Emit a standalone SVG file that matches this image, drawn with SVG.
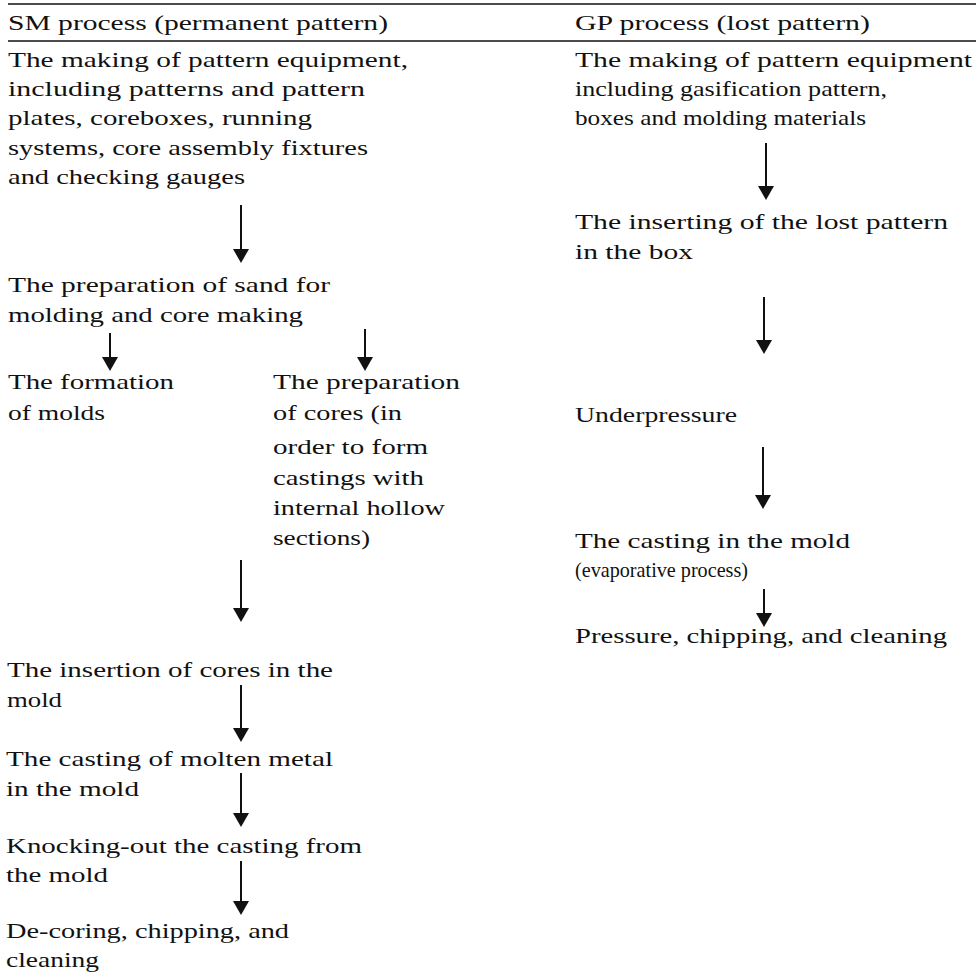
<svg xmlns="http://www.w3.org/2000/svg" width="976" height="977" viewBox="0 0 976 977">
<style>
text{font-family:"Liberation Serif","DejaVu Serif",serif;font-size:22px;fill:#111;}
.rule{stroke:#111;stroke-width:1.6;}
.conn line{stroke:#111;stroke-width:2;}
</style>
<defs>
<marker id="ah" markerUnits="userSpaceOnUse" markerWidth="16" markerHeight="18" viewBox="0 -9 16 18" refX="6" refY="0" orient="auto">
<path d="M0,-8 L14,0 L0,8 z" fill="#111"/>
</marker>
</defs>
<rect width="976" height="977" fill="#fff"/>
<g id="rules">
<line class="rule" x1="8" y1="4" x2="976" y2="4"/>
<line class="rule" x1="8" y1="41" x2="976" y2="41"/>
</g>
<g id="hdr-sm"><text x="8" y="30" textLength="380" lengthAdjust="spacingAndGlyphs">SM process (permanent pattern)</text></g>
<g id="hdr-gp"><text x="575" y="30" textLength="295" lengthAdjust="spacingAndGlyphs">GP process (lost pattern)</text></g>

<g id="sm1">
<text x="8" y="67" textLength="400" lengthAdjust="spacingAndGlyphs">The making of pattern equipment,</text>
<text x="8" y="96" textLength="357" lengthAdjust="spacingAndGlyphs">including patterns and pattern</text>
<text x="8" y="125" textLength="304" lengthAdjust="spacingAndGlyphs">plates, coreboxes, running</text>
<text x="8" y="155" textLength="360" lengthAdjust="spacingAndGlyphs">systems, core assembly fixtures</text>
<text x="8" y="184" textLength="237" lengthAdjust="spacingAndGlyphs">and checking gauges</text>
</g>
<g id="sm2">
<text x="8" y="292" textLength="322" lengthAdjust="spacingAndGlyphs">The preparation of sand for</text>
<text x="8" y="322" textLength="295" lengthAdjust="spacingAndGlyphs">molding and core making</text>
</g>
<g id="sm3">
<text x="8" y="389" textLength="166" lengthAdjust="spacingAndGlyphs">The formation</text>
<text x="8" y="420" textLength="97" lengthAdjust="spacingAndGlyphs">of molds</text>
</g>
<g id="sm4">
<text x="273" y="389" textLength="187" lengthAdjust="spacingAndGlyphs">The preparation</text>
<text x="273" y="420" textLength="129" lengthAdjust="spacingAndGlyphs">of cores (in</text>
<text x="273" y="454" textLength="155" lengthAdjust="spacingAndGlyphs">order to form</text>
<text x="273" y="485" textLength="151" lengthAdjust="spacingAndGlyphs">castings with</text>
<text x="273" y="515" textLength="172" lengthAdjust="spacingAndGlyphs">internal hollow</text>
<text x="273" y="545" textLength="97" lengthAdjust="spacingAndGlyphs">sections)</text>
</g>
<g id="sm5">
<text x="7" y="677" textLength="326" lengthAdjust="spacingAndGlyphs">The insertion of cores in the</text>
<text x="7" y="707" textLength="55" lengthAdjust="spacingAndGlyphs">mold</text>
</g>
<g id="sm6">
<text x="6" y="766" textLength="327" lengthAdjust="spacingAndGlyphs">The casting of molten metal</text>
<text x="6" y="796" textLength="133" lengthAdjust="spacingAndGlyphs">in the mold</text>
</g>
<g id="sm7">
<text x="6" y="853" textLength="356" lengthAdjust="spacingAndGlyphs">Knocking-out the casting from</text>
<text x="6" y="882" textLength="102" lengthAdjust="spacingAndGlyphs">the mold</text>
</g>
<g id="sm8">
<text x="6" y="938" textLength="283" lengthAdjust="spacingAndGlyphs">De-coring, chipping, and</text>
<text x="6" y="967" textLength="93" lengthAdjust="spacingAndGlyphs">cleaning</text>
</g>

<g id="gp1">
<text x="575" y="67" textLength="397" lengthAdjust="spacingAndGlyphs">The making of pattern equipment</text>
<text x="575" y="96" textLength="312" lengthAdjust="spacingAndGlyphs">including gasification pattern,</text>
<text x="575" y="125" textLength="291" lengthAdjust="spacingAndGlyphs">boxes and molding materials</text>
</g>
<g id="gp2">
<text x="575" y="229" textLength="373" lengthAdjust="spacingAndGlyphs">The inserting of the lost pattern</text>
<text x="575" y="259" textLength="118" lengthAdjust="spacingAndGlyphs">in the box</text>
</g>
<g id="gp3">
<text x="575" y="422" textLength="162" lengthAdjust="spacingAndGlyphs">Underpressure</text>
</g>
<g id="gp4">
<text x="575" y="548" textLength="275" lengthAdjust="spacingAndGlyphs">The casting in the mold</text>
<text x="575" y="577" textLength="173" lengthAdjust="spacingAndGlyphs">(evaporative process)</text>
</g>
<g id="gp5">
<text x="575" y="643" textLength="372" lengthAdjust="spacingAndGlyphs">Pressure, chipping, and cleaning</text>
</g>

<g id="connectors" class="conn">
<line x1="241" y1="205" x2="241" y2="255" marker-end="url(#ah)"/>
<line x1="110" y1="333" x2="110" y2="363" marker-end="url(#ah)"/>
<line x1="365" y1="329" x2="365" y2="363" marker-end="url(#ah)"/>
<line x1="241" y1="560" x2="241" y2="614" marker-end="url(#ah)"/>
<line x1="241" y1="685" x2="241" y2="734" marker-end="url(#ah)"/>
<line x1="241" y1="773" x2="241" y2="819" marker-end="url(#ah)"/>
<line x1="241" y1="861" x2="241" y2="907" marker-end="url(#ah)"/>
<line x1="766" y1="143" x2="766" y2="192" marker-end="url(#ah)"/>
<line x1="764" y1="297" x2="764" y2="346" marker-end="url(#ah)"/>
<line x1="763" y1="447" x2="763" y2="501" marker-end="url(#ah)"/>
<line x1="764" y1="589" x2="764" y2="619" marker-end="url(#ah)"/>
</g>
</svg>
